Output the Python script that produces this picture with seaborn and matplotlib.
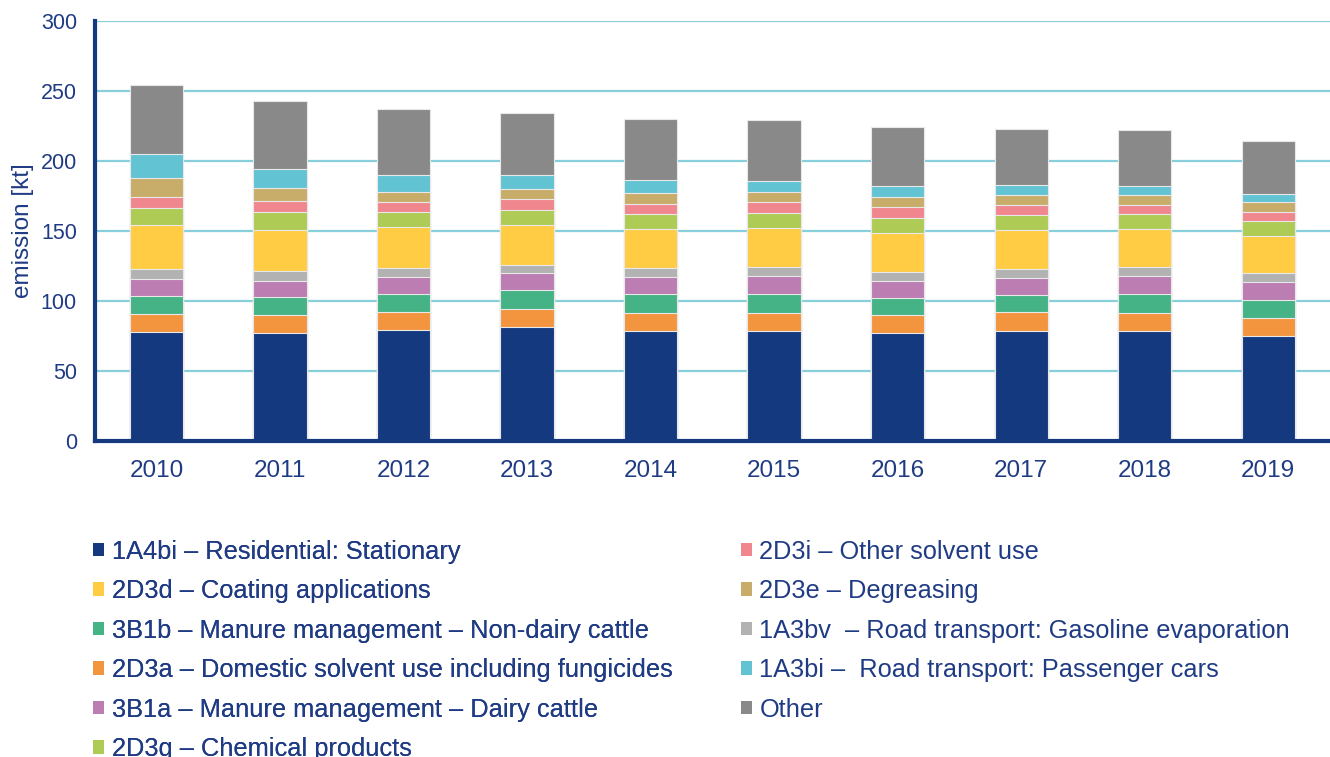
import numpy as np
import pandas as pd
import matplotlib.pyplot as plt
import seaborn as sns
from matplotlib.patches import Patch

years = ['2010', '2011', '2012', '2013', '2014', '2015', '2016', '2017', '2018', '2019']

# segments, bottom to top (kt)
res_stationary = [78.1, 77.1, 79.0, 81.7, 78.3, 78.3, 76.9, 78.8, 78.8, 74.8]
domestic_solvent = [12.8, 12.9, 12.9, 12.6, 13.1, 13.1, 12.9, 13.1, 12.6, 12.8]
nondairy_cattle = [12.9, 12.9, 13.3, 13.6, 13.4, 13.8, 12.6, 12.4, 13.4, 12.9]
dairy_cattle = [12.2, 11.6, 11.9, 11.9, 12.1, 12.9, 12.1, 12.4, 12.8, 12.9]
gasoline_evap = [6.6, 7.2, 6.7, 6.2, 6.4, 6.2, 6.5, 6.2, 6.7, 6.4]
coating = [31.7, 29.0, 29.1, 28.3, 28.4, 27.6, 27.6, 27.8, 27.1, 26.6]
chemical = [11.9, 13.1, 10.4, 10.5, 10.4, 10.7, 10.9, 10.5, 10.5, 10.5]
other_solvent = [7.8, 7.8, 7.4, 7.8, 7.4, 7.9, 7.4, 7.1, 6.9, 6.9]
degreasing = [13.6, 8.9, 7.4, 7.2, 7.3, 7.4, 7.4, 7.2, 6.7, 6.7]
passenger_cars = [17.4, 13.8, 11.9, 10.2, 9.3, 7.8, 7.6, 7.1, 6.6, 5.7]
other = [49.3, 48.6, 47.1, 44.5, 44.0, 43.8, 42.1, 40.5, 40.3, 38.3]

labels = {
    'res_stationary': '1A4bi – Residential: Stationary',
    'domestic_solvent': '2D3a – Domestic solvent use including fungicides',
    'nondairy_cattle': '3B1b – Manure management – Non-dairy cattle',
    'dairy_cattle': '3B1a – Manure management – Dairy cattle',
    'gasoline_evap': '1A3bv  – Road transport: Gasoline evaporation',
    'coating': '2D3d – Coating applications',
    'chemical': '2D3g – Chemical products',
    'other_solvent': '2D3i – Other solvent use',
    'degreasing': '2D3e – Degreasing',
    'passenger_cars': '1A3bi –  Road transport: Passenger cars',
    'other': 'Other',
}
colors = {
    'res_stationary': '#14397F',
    'domestic_solvent': '#F3953F',
    'nondairy_cattle': '#46B386',
    'dairy_cattle': '#BB7DB2',
    'gasoline_evap': '#B2B2B2',
    'coating': '#FFCC44',
    'chemical': '#AECB55',
    'other_solvent': '#F0868E',
    'degreasing': '#C8AD6A',
    'passenger_cars': '#62C3D2',
    'other': '#898989',
}

stack_order = ['res_stationary', 'domestic_solvent', 'nondairy_cattle', 'dairy_cattle',
               'gasoline_evap', 'coating', 'chemical', 'other_solvent', 'degreasing',
               'passenger_cars', 'other']
legend_col1 = ['res_stationary', 'coating', 'nondairy_cattle', 'domestic_solvent',
               'dairy_cattle', 'chemical']
legend_col2 = ['other_solvent', 'degreasing', 'gasoline_evap', 'passenger_cars', 'other']

df = pd.DataFrame({
    'year': years,
    'res_stationary': res_stationary,
    'domestic_solvent': domestic_solvent,
    'nondairy_cattle': nondairy_cattle,
    'dairy_cattle': dairy_cattle,
    'gasoline_evap': gasoline_evap,
    'coating': coating,
    'chemical': chemical,
    'other_solvent': other_solvent,
    'degreasing': degreasing,
    'passenger_cars': passenger_cars,
    'other': other,
})
cum = df[stack_order].cumsum(axis=1)
cum['year'] = df['year']

sns.set_style('white')
plt.rcParams['font.family'] = ['Liberation Sans', 'DejaVu Sans']
navy = '#1F3B84'

fig = plt.figure(figsize=(13.3, 7.57), dpi=100)
ax = fig.add_axes([0.0714, 0.4174, 0.9286, 0.5549])

# draw the cumulative totals tallest first, so each layer shows only its segment
for key in reversed(stack_order):
    sns.barplot(data=cum, x='year', y=key, color=colors[key], width=0.433,
                edgecolor='#E8E8E8', linewidth=0.8, saturation=1, ax=ax, zorder=3)

ax.set_xlim(-0.5, 9.5)
ax.set_ylim(0, 300)
ax.set_yticks(range(0, 301, 50))
ax.yaxis.grid(True, color='#86CFDB', linewidth=1.6, zorder=0)
ax.set_axisbelow(True)
ax.set_xlabel('')
ax.set_ylabel('emission [kt]', fontsize=17.5, color=navy, labelpad=5)
ax.tick_params(axis='x', labelsize=17.5, colors=navy, length=0, pad=14)
ax.tick_params(axis='y', labelsize=15.5, colors=navy, length=0, pad=13)

for side in ['top', 'right']:
    ax.spines[side].set_visible(False)
for side in ['left', 'bottom']:
    ax.spines[side].set_color('#14397F')
    ax.spines[side].set_linewidth(3)
    ax.spines[side].set_zorder(5)

def handles(keys):
    return [Patch(facecolor=colors[k], edgecolor='none', label=labels[k]) for k in keys]

leg_kw = dict(loc='upper left', frameon=False, fontsize=18.3, labelcolor=navy,
              handlelength=0.43, handleheight=0.43, handletextpad=0.3,
              labelspacing=0.61, borderpad=0, borderaxespad=0)
leg1 = fig.legend(handles=handles(legend_col1), bbox_to_anchor=(0.0699, 0.2873), **leg_kw)
fig.add_artist(leg1)
fig.legend(handles=handles(legend_col2), bbox_to_anchor=(0.557, 0.2873), **leg_kw)

fig.savefig('out.png', dpi=100)
